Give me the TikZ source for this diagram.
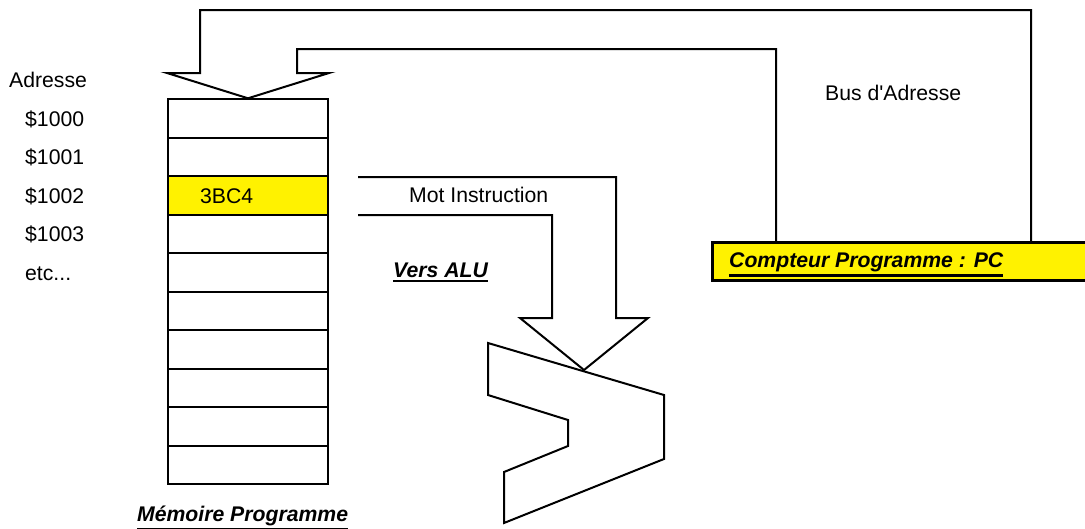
\documentclass[tikz,border=0pt]{standalone}
\usepackage{fontspec}
% plain family, no TeX ligature mapping, so the apostrophe stays straight
\newfontfamily\arialish{Liberation Sans}
% thick underline for the titles
\newcommand{\thul}[1]{\vtop{\hbox{#1}\kern2.3pt\hrule height 2.8pt}}
\begin{document}
\begin{tikzpicture}[x=1pt,y=-1pt,
  txt/.style={inner sep=0pt, anchor=base west, font=\arialish\fontsize{21.2}{25}\selectfont},
  title/.style={txt, font=\arialish\fontsize{21.2}{25}\selectfont\bfseries\itshape},
  cell/.style={draw, line width=2pt, minimum width=160pt, minimum height=38.5pt, inner sep=0pt},
  blockarrow/.style={draw, line width=2pt, line join=miter},
]
\useasboundingbox (0,0) rectangle (1085,528);
\clip (0,0) rectangle (1085,528);

% program memory: ten words
\foreach \i/\f in {0/white,1/white,2/yellow,3/white,4/white,5/white,6/white,7/white,8/white,9/white}
  \node[cell, fill=\f] (m\i) at (248, {118.55+38.5*\i}) {};
\node[txt] (word) at (200,203) {3BC4};

% address column
\node[txt] (adr)  at (9,87)   {Adresse};
\node[txt] (a0)   at (25,126) {\$1000};
\node[txt] (a1)   at (25,164) {\$1001};
\node[txt] (a2)   at (25,203) {\$1002};
\node[txt] (a3)   at (25,241) {\$1003};
\node[txt] (etc)  at (25,280) {etc...};

% program counter
\fill[gray!60] (713.5,243.5) rectangle (1090,282);
\node[draw, fill=yellow, line width=2.5pt, anchor=north west, minimum width=380pt,
      minimum height=38pt, inner sep=0pt] (pc) at (711,241) {};
\node[title] (pclbl) at (729,267) {\thul{Compteur Programme : PC}};

% address bus: block arrow from the PC down onto the memory
\coordinate (busOut) at (1031,10);
\coordinate (busIn)  at (776,49);
\draw[blockarrow] (busOut |- pc.north) -- (busOut) -- (200,10) -- (200,73) -- (167,73)
  -- (m0.north) -- (329,73) -- (297,73) -- (297,49) -- (busIn) -- (busIn |- pc.north);
\node[txt] (buslbl) at (825,100) {Bus d'Adresse};

% ALU
\draw[blockarrow] (488,343) coordinate (aluTop) -- (664,395) -- (664,459)
  -- (504,523) -- (504,472) -- (568,446) -- (568,420) -- (488,395) -- cycle;
\coordinate (aluIn) at (584,370);

% instruction word: block arrow towards the ALU
\draw[blockarrow] (358,177) -- (616,177) -- (616,318) -- (648,318) -- (aluIn)
  -- (520,318) -- (552,318) -- (552,215) -- (358,215);
\node[txt] (motlbl) at (409,202) {Mot Instruction};
\node[title] (alulbl) at (393,277) {\thul{Vers ALU}};

% memory title
\node[title] (memlbl) at (137,521.5) {\thul{Mémoire Programme}};
\end{tikzpicture}
\end{document}
